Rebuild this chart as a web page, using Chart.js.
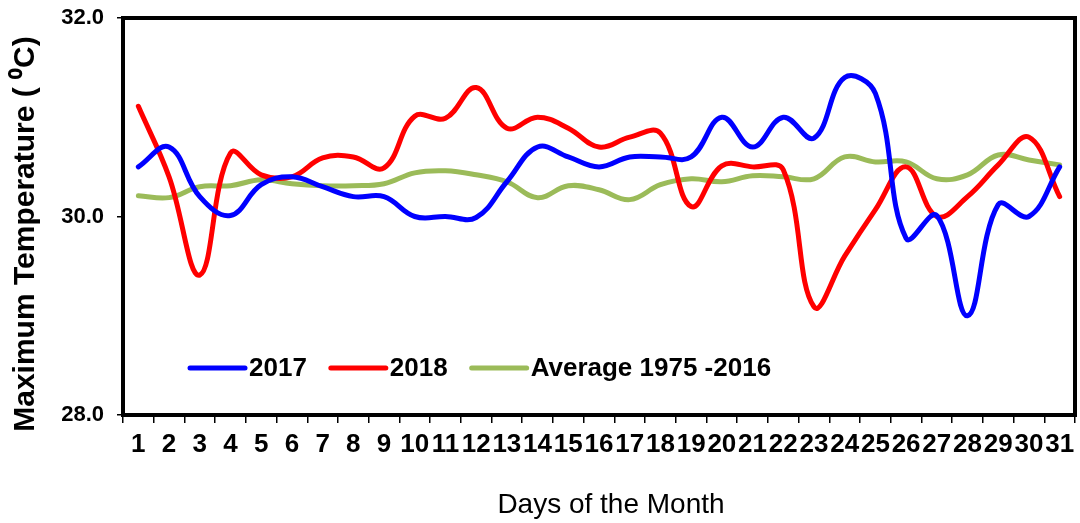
<!DOCTYPE html>
<html>
<head>
<meta charset="utf-8">
<script src="https://cdn.jsdelivr.net/npm/chart.js@4.4.1/dist/chart.umd.min.js"></script>
<style>
  html, body { margin: 0; padding: 0; background: #fff; }
  #wrap { width: 1080px; height: 523px; position: relative; }
</style>
</head>
<body>
<div id="wrap"><canvas id="tempChart"></canvas></div>
<script>
// values
const days = ['1','2','3','4','5','6','7','8','9','10','11','12','13','14','15','16',
              '17','18','19','20','21','22','23','24','25','26','27','28','29','30','31'];
const yr2017 = [30.50, 30.70, 30.20, 30.01, 30.32, 30.40, 30.30, 30.20, 30.20, 30.00, 30.00,
                29.99, 30.35, 30.70, 30.60, 30.50, 30.60, 30.60, 30.60, 31.00, 30.70, 31.00,
                30.79, 31.40, 31.24, 29.78, 30.01, 29.00, 30.12, 30.00, 30.50];
const yr2018 = [31.11, 30.40, 29.41, 30.64, 30.42, 30.40, 30.59, 30.60, 30.49, 31.01, 30.99,
                31.30, 30.89, 31.00, 30.89, 30.70, 30.80, 30.84, 30.10, 30.51, 30.50, 30.47,
                29.09, 29.60, 30.07, 30.50, 30.00, 30.20, 30.52, 30.80, 30.20];
const avg7516 = [30.21, 30.19, 30.30, 30.31, 30.37, 30.33, 30.31, 30.31, 30.33, 30.44, 30.46,
                 30.42, 30.35, 30.19, 30.31, 30.27, 30.17, 30.32, 30.38, 30.35, 30.41, 30.40,
                 30.38, 30.60, 30.55, 30.55, 30.38, 30.42, 30.62, 30.57, 30.52];
const yTicks = [28, 30, 32];

const FONT = '"Liberation Sans", Arial, sans-serif';

// frame round the plot, legend inside it and the axis titles
const extras = {
  id: 'extras',
  afterDraw(chart) {
    const c = chart.ctx;
    const a = chart.chartArea;
    c.save();
    c.strokeStyle = '#000';
    c.lineWidth = 4;
    c.strokeRect(a.left, a.top, a.right - a.left, a.bottom - a.top);

    // legend
    c.font = 'bold 26px ' + FONT;
    c.textBaseline = 'middle';
    c.textAlign = 'left';
    let x = 190;
    const y = 368;
    chart.data.datasets.forEach(ds => {
      c.strokeStyle = ds.borderColor;
      c.lineWidth = 5;
      c.lineCap = 'round';
      c.beginPath();
      c.moveTo(x, y);
      c.lineTo(x + 55, y);
      c.stroke();
      c.fillStyle = '#000';
      c.fillText(ds.label, x + 59, y + 1);
      x += 59 + c.measureText(ds.label).width + 24;
    });

    // x axis title
    c.textAlign = 'center';
    c.font = '28px ' + FONT;
    c.fillText('Days of the Month', 611, 505);

    // y axis title
    c.translate(26, 234);
    c.rotate(-Math.PI / 2);
    c.font = 'bold 30px ' + FONT;
    c.fillText('Maximum Temperature ( \u2070C)', 0, 0);
    c.restore();
  }
};

const ctx = document.getElementById('tempChart').getContext('2d');

let tempChart = new Chart(ctx, {
    type: 'line',
    data: {
        labels: days,
        datasets: [
            { label: '2017', data: yr2017, borderColor: '#0000ff' },
            { label: '2018', data: yr2018, borderColor: '#ff0000' },
            { label: 'Average 1975 -2016', data: avg7516, borderColor: '#9bbb59' }
        ]
    },
    options: {
        responsive: true,
        maintainAspectRatio: false,
        animation: false,
        layout: { padding: { left: 0, top: 18, right: 5, bottom: 0 } },
        elements: {
            line: { borderWidth: 5, tension: 0.4, fill: false, borderCapStyle: 'round' },
            point: { radius: 0, hoverRadius: 0 }
        },
        plugins: {
            legend: { display: false },
            tooltip: { enabled: false }
        },
        scales: {
            x: {
                offset: true,
                afterFit: s => { s.height = 108; s.paddingLeft = 0; s.paddingRight = 0; },
                grid: {
                    offset: true, drawOnChartArea: false, drawTicks: true,
                    tickLength: 8, color: '#000', lineWidth: 1.5
                },
                border: { display: false },
                ticks: {
                    autoSkip: false, maxRotation: 0, padding: 6,
                    color: '#000', font: { family: FONT, size: 26, weight: 'bold' }
                }
            },
            y: {
                min: 28,
                max: 32,
                afterFit: s => { s.width = 123; s.paddingTop = 0; s.paddingBottom = 0; },
                afterBuildTicks: s => { s.ticks = yTicks.map(v => ({ value: v })); },
                grid: {
                    drawOnChartArea: false, drawTicks: true,
                    tickLength: 6, color: '#000', lineWidth: 1.5
                },
                border: { display: false },
                ticks: {
                    padding: 13, color: '#000',
                    font: { family: FONT, size: 22, weight: 'bold' },
                    callback: v => Number(v).toFixed(1)
                }
            }
        }
    },
    plugins: [extras]
});
</script>
</body>
</html>
